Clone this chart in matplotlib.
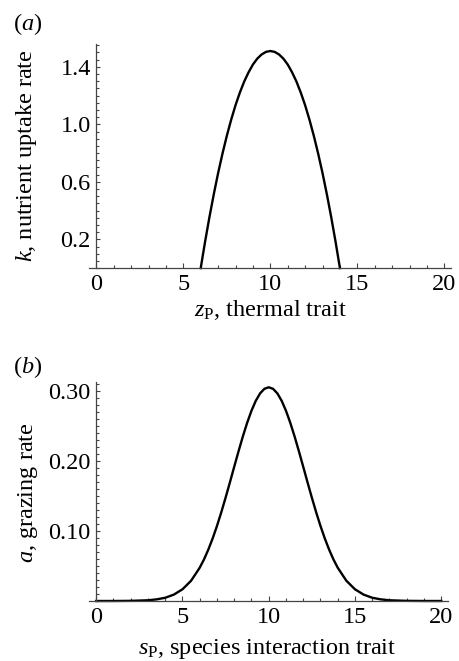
import matplotlib
matplotlib.use("Agg")
import matplotlib.pyplot as plt
from matplotlib.ticker import MultipleLocator, FixedLocator, FormatStrFormatter

plt.rcParams["font.family"] = ["Liberation Serif", "DejaVu Serif"]
plt.rcParams["mathtext.fontset"] = "custom"
plt.rcParams["mathtext.rm"] = "Liberation Serif"
plt.rcParams["mathtext.it"] = "Liberation Serif:italic"

# ── Panel (a): nutrient uptake rate vs thermal trait ────────────────────────
z_vals = [6.0, 6.25, 6.5, 6.75, 7.0, 7.25, 7.5, 7.75, 8.0, 8.25, 8.5, 8.75,
          9.0, 9.25, 9.5, 9.75, 10.0, 10.25, 10.5, 10.75, 11.0, 11.25, 11.5,
          11.75, 12.0, 12.25, 12.5, 12.75, 13.0, 13.25, 13.5, 13.75, 14.0]
k_vals = [0.0, 0.183, 0.354, 0.513, 0.661, 0.796, 0.920, 1.032, 1.133, 1.221,
          1.298, 1.362, 1.416, 1.457, 1.486, 1.504, 1.510, 1.504, 1.486, 1.457,
          1.416, 1.362, 1.298, 1.221, 1.133, 1.032, 0.920, 0.796, 0.661, 0.513,
          0.354, 0.183, 0.0]

# ── Panel (b): grazing rate vs species interaction trait ────────────────────
s_vals = [0.0, 1.0, 2.0, 3.0, 3.5, 4.0, 4.5, 5.0, 5.5, 6.0, 6.25, 6.5, 6.75,
          7.0, 7.25, 7.5, 7.75, 8.0, 8.25, 8.5, 8.75, 9.0, 9.25, 9.5, 9.75,
          10.0, 10.25, 10.5, 10.75, 11.0, 11.25, 11.5, 11.75, 12.0, 12.25,
          12.5, 12.75, 13.0, 13.25, 13.5, 13.75, 14.0, 14.5, 15.0, 15.5, 16.0,
          16.5, 17.0, 18.0, 19.0, 20.0]
a_vals = [0.0, 0.0, 0.0002, 0.0010, 0.0023, 0.0046, 0.0091, 0.0167, 0.0289,
          0.0475, 0.0594, 0.0734, 0.0893, 0.1071, 0.1266, 0.1475, 0.1693,
          0.1916, 0.2136, 0.2348, 0.2543, 0.2715, 0.2857, 0.2963, 0.3028,
          0.3050, 0.3028, 0.2963, 0.2857, 0.2715, 0.2543, 0.2348, 0.2136,
          0.1916, 0.1693, 0.1475, 0.1266, 0.1071, 0.0893, 0.0734, 0.0594,
          0.0475, 0.0289, 0.0167, 0.0091, 0.0046, 0.0023, 0.0010, 0.0002,
          0.0, 0.0]

x_major = [0, 5, 10, 15, 20]
k_major = [0.2, 0.6, 1.0, 1.4]
a_major = [0.10, 0.20, 0.30]

FS = 17.5
AX_COLOR = "#444444"

fig = plt.figure(figsize=(4.59, 6.61), dpi=100)


def style_axes(ax, xlim, ylim, yticks, ymin_step, yfmt):
    ax.set_xlim(*xlim)
    ax.set_ylim(*ylim)
    for side in ("top", "right"):
        ax.spines[side].set_visible(False)
    ax.spines["left"].set_position(("data", 0))
    ax.spines["left"].set_bounds(0, ylim[1])
    for side in ("left", "bottom"):
        ax.spines[side].set_color(AX_COLOR)
        ax.spines[side].set_linewidth(0.9)
    ax.xaxis.set_major_locator(FixedLocator(x_major))
    ax.xaxis.set_minor_locator(MultipleLocator(1))
    ax.yaxis.set_major_locator(FixedLocator(yticks))
    ax.yaxis.set_minor_locator(MultipleLocator(ymin_step))
    ax.yaxis.set_major_formatter(FormatStrFormatter(yfmt))
    ax.tick_params(which="both", direction="in", color=AX_COLOR, width=0.8,
                   labelsize=FS)
    ax.tick_params(axis="x", which="major", length=3.8, pad=4)
    ax.tick_params(axis="x", which="minor", length=2.2)
    ax.tick_params(axis="y", which="major", length=3.2, pad=4)
    ax.tick_params(axis="y", which="minor", length=1.8)


# panel (a)
ax1 = fig.add_axes([0.1939, 0.5944, 0.7893, 0.3393])
ax1.plot(z_vals, k_vals, color="black", lw=1.7, clip_on=False)
style_axes(ax1, (-0.42, 20.4), (0, 1.56), k_major, 0.05, "%.1f")

# panel (b)
ax2 = fig.add_axes([0.1946, 0.0908, 0.7817, 0.3318])
ax2.plot(s_vals, a_vals, color="black", lw=1.7, clip_on=False)
style_axes(ax2, (-0.4, 20.4), (0, 0.313), a_major, 0.01, "%.2f")

# axis labels and panel letters (pixel positions from top-left)
W, H = 459.0, 661.0
fig.text(270 / W, 1 - 316 / H, r"$z_{\mathrm{P}}$, thermal trait",
         ha="center", va="baseline", fontsize=FS)
fig.text(267.5 / W, 1 - 654 / H, r"$s_{\mathrm{P}}$, species interaction trait",
         ha="center", va="baseline", fontsize=FS)
fig.text(26.7 / W, 1 - 156 / H, r"$k$, nutrient uptake rate",
         ha="center", va="center", rotation=90, fontsize=FS)
fig.text(28.3 / W, 1 - 492.5 / H, r"$a$, grazing rate",
         ha="center", va="center", rotation=90, fontsize=FS)
fig.text(13 / W, 1 - 30 / H, r"($a$)", ha="left", va="baseline", fontsize=FS)
fig.text(13 / W, 1 - 373 / H, r"($b$)", ha="left", va="baseline", fontsize=FS)

fig.savefig("out.png", dpi=100)
